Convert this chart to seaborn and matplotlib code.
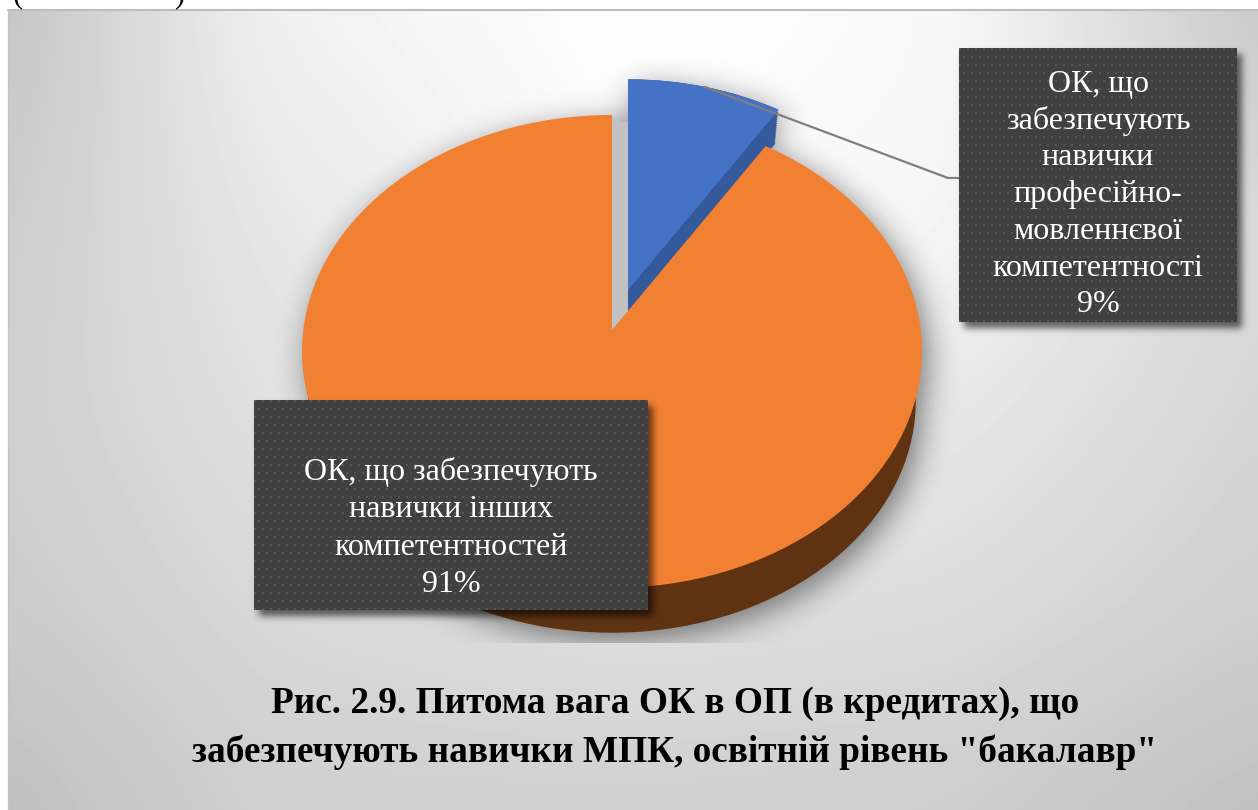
import numpy as np
import matplotlib
matplotlib.use("Agg")
import matplotlib.pyplot as plt
from matplotlib.path import Path
from matplotlib.transforms import Transform
import seaborn as sns

# Chart data
shares = [9, 91]
segment_names = [
    ["ОК, що", "забезпечують", "навички", "професійно-", "мовленнєвої", "компетентності"],
    ["ОК, що забезпечують", "навички інших", "компетентностей"],
]
title_lines = [
    "Рис. 2.9. Питома вага ОК в ОП (в кредитах), що",
    "забезпечують навички МПК, освітній рівень \"бакалавр\"",
]

W, H = 1258, 810
BLUE, BLUE_SIDE = "#4472c4", "#355a9c"
ORANGE, ORANGE_SIDE = "#f28033", "#5f3211"

sns.set_theme(style="white")
plt.rcParams["font.family"] = ["Liberation Serif", "DejaVu Serif"]

RX, RY, TILT = 308.7, 234.5, 0.0907


def project(pts, x0, y0, scale):
    """Tilted-disc projection of unit-circle coordinates onto the canvas."""
    pts = np.asarray(pts, dtype=float)
    w = 1 + TILT * pts[:, 1]
    return np.column_stack([x0 + scale * RX * pts[:, 0] / w,
                            y0 - scale * RY * pts[:, 1] / w])


class TiltedDisc(Transform):
    input_dims = output_dims = 2
    has_inverse = False

    def __init__(self, x0, y0, scale=1.0):
        super().__init__()
        self.x0, self.y0, self.scale = x0, y0, scale

    def transform_non_affine(self, values):
        return project(values, self.x0, self.y0, self.scale)


fig = plt.figure(figsize=(W / 100, H / 100), dpi=100, facecolor="white")
ax = fig.add_axes([0, 0, 1, 1])


def pie_layer(color, index, x0, y0, scale, zorder):
    """Draw one slice of the pie at the given place in the stack of layers."""
    wedges, _ = ax.pie(shares, startangle=90, counterclock=False,
                       colors=[color, color], wedgeprops={"linewidth": 0})
    for i, wedge in enumerate(wedges):
        if i == index:
            wedge.set_transform(TiltedDisc(x0, y0, scale) + ax.transData)
            wedge.set_zorder(zorder)
        else:
            wedge.remove()


# Side wall of the large slice
pie_layer(ORANGE_SIDE, 1, 612, 380, 0.98, 3)
# Side wall of the small slice, swept down from its top face
for step in np.linspace(0, 1, 16):
    pie_layer(BLUE_SIDE, 0, 628, 290 + 30 * step, 0.98 - 0.02 * step, 4)
# Top faces
pie_layer(BLUE, 0, 628, 290, 0.98, 5)
pie_layer(ORANGE, 1, 612, 330, 1.0, 6)

# Inner face of the gap between the two slices
ax.fill([612, 628, 628, 612], [330, 313, 122, 122], color="#c2c2c2", lw=0, zorder=2.5)


def blur(mask, sigma):
    """Gaussian blur through the frequency domain."""
    fy = np.fft.fftfreq(mask.shape[0])[:, None]
    fx = np.fft.rfftfreq(mask.shape[1])[None, :]
    kernel = np.exp(-2 * (np.pi * sigma) ** 2 * (fx ** 2 + fy ** 2))
    return np.fft.irfft2(np.fft.rfft2(mask) * kernel, s=mask.shape)


# Page background: a soft light spot near the top, smoothed from a coarse tone grid
tone_x = [8, 260, 640, 950, 1258]
tone_y = [10, 230, 400, 600, 810]
tones = np.array([[0xc4, 0xf0, 0xff, 0xf8, 0xc8],
                  [0xcc, 0xe6, 0xfa, 0xf5, 0xd8],
                  [0xcf, 0xe0, 0xee, 0xe8, 0xd5],
                  [0xcb, 0xd8, 0xe0, 0xdc, 0xcf],
                  [0xbf, 0xcf, 0xcf, 0xcd, 0xc0]], dtype=float)
yy, xx = np.mgrid[0:H, 0:W]
by_row = np.array([np.interp(np.arange(W), tone_x, row) for row in tones])
shade = np.array([np.interp(np.arange(H), tone_y, col) for col in by_row.T]).T
shade = blur(np.pad(shade, 120, mode="edge"), 35)[120:-120, 120:-120] / 255
ax.imshow(shade, cmap="gray", vmin=0, vmax=1, extent=(0, W, H, 0),
          interpolation="bilinear", zorder=0)
ax.fill([0, W, W, 8, 8, 0], [0, 0, 10, 10, H, H], color="white", lw=0, zorder=0.5)
ax.plot([8, W], [10, 10], color="#bdbdbd", lw=1.5, zorder=0.6)
ax.plot([8, 8], [10, H], color="#c4c4c4", lw=1, zorder=0.6)

# Soft shadow under the pie, cut off at the lower edge of the plot area
t = np.linspace(0, 2 * np.pi, 240)
disc = np.column_stack([np.cos(t), np.sin(t)])
a = np.radians(np.linspace(90, 90 - 360 * shares[0] / sum(shares), 30))
blue_arc = np.column_stack([np.cos(a), np.sin(a)])
outlines = [project(disc, 612, 330, 1.0), project(disc, 612, 380, 0.98),
            np.vstack([[[628, 320]], project(blue_arc, 628, 290, 0.98)])]
grid = np.column_stack([xx.ravel() + 0.5, yy.ravel() + 0.5])
mask = np.zeros(H * W)
for outline in outlines:
    mask = np.maximum(mask, Path(outline).contains_points(grid).astype(float))
mask = mask.reshape(H, W)
mask = np.roll(np.roll(mask, 8, axis=0), 6, axis=1)
alpha = np.clip(blur(mask, 15), 0, 1) * 0.48
alpha[yy > 642] = 0
rgba = np.zeros((H, W, 4))
rgba[..., 3] = alpha
ax.imshow(rgba, extent=(0, W, H, 0), zorder=1, interpolation="bilinear")

# Leader line from the small slice to its label
ax.plot([705, 948, 959], [87, 178, 178], color="#7f7f7f", lw=1.6, zorder=7,
        solid_joinstyle="miter")


def label_box(x0, y0, x1, y1):
    """Dark dotted label panel with a drop shadow."""
    sm = np.zeros((H, W))
    sm[y0 + 6:y1 + 6, x0 + 5:x1 + 5] = 1
    sh = np.zeros((H, W, 4))
    sh[..., 3] = np.clip(blur(sm, 3.5), 0, 1) * 0.6
    ax.imshow(sh, extent=(0, W, H, 0), zorder=8, interpolation="bilinear")
    h, w = y1 - y0, x1 - x0
    py, px = np.mgrid[0:h, 0:w]
    stagger = ((py // 8) % 2) * 4
    dots = (((px + stagger) % 8 < 2) & (py % 8 < 2)).astype(float)
    tone = (0x40 + dots * 0x16) / 255
    ax.imshow(tone, cmap="gray", vmin=0, vmax=1, extent=(x0, x1, y1, y0),
              interpolation="bilinear", zorder=9)


def label_text(cx, baseline, step, lines):
    for i, line in enumerate(lines):
        ax.text(cx, baseline + i * step, line, color="white", fontsize=23,
                ha="center", va="baseline", zorder=10)


label_box(959, 48, 1237, 322)
label_text(1098, 92, 36.7, segment_names[0] + [f"{shares[0]}%"])
label_box(254, 400, 648, 610)
label_text(451, 480, 37.3, segment_names[1] + [f"{shares[1]}%"])

# Title
for line, base in zip(title_lines, (713, 762)):
    ax.text(675, base, line, color="black", fontsize=26.8, fontweight="bold",
            ha="center", va="baseline", zorder=10)

# Closing edge of the caption running in from above the chart
ax.text(18, 2, "(", color="black", fontsize=22, ha="center", va="baseline", zorder=10)
ax.text(179, 2, ")", color="black", fontsize=22, ha="center", va="baseline", zorder=10)

ax.set_aspect("auto")
ax.set_xlim(0, W)
ax.set_ylim(H, 0)
ax.set_axis_off()
fig.savefig("out.png", dpi=100, facecolor="white")
